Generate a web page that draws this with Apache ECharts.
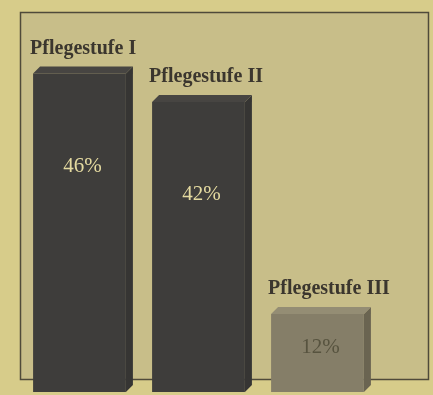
<!DOCTYPE html>
<html><head><meta charset="utf-8">
<script src="https://cdn.jsdelivr.net/npm/echarts@6/dist/echarts.min.js"></script>
<style>html,body{margin:0;padding:0;background:#d7cc8a;}#c{width:433px;height:395px;}</style>
</head><body><div id="c"></div>
<script>
const categories = ['Pflegestufe I', 'Pflegestufe II', 'Pflegestufe III'];
const shares = [46, 42, 12];
const shareLabels = ['46%', '42%', '12%'];

const frontColors = ['#3e3d3b', '#3e3d3b', '#857e68'];
const sideColors = ['#363533', '#363533', '#6a6451'];
const topColors = ['#474542', '#474542', '#948d74'];
const textColors = ['#e4daa0', '#e4daa0', '#57533f'];

const chart = echarts.init(document.getElementById('c'));
const depth = 7;
chart.setOption({
  backgroundColor: '#d7cc8a',
  animation: false,
  grid: { left: 20, width: 357, top: 10, height: 382 },
  xAxis: { type: 'category', data: categories, show: false },
  yAxis: { type: 'value', min: 0, max: 54, show: false },
  graphic: [{
    type: 'rect', z: 0,
    shape: { x: 20.5, y: 12.5, width: 408, height: 367 },
    style: { fill: '#c8be89', stroke: '#4f4a3a', lineWidth: 1.5 }
  }],
  series: [{
    type: 'custom', z: 5,
    data: shares.map((v, i) => [i, v]),
    renderItem: function (params, api) {
      const i = api.value(0);
      const top = api.coord([i, api.value(1)]);
      const base = api.coord([i, 0]);
      const w = api.size([1, 0])[0] * 0.78;
      const x0 = top[0] - w / 2, x1 = top[0] + w / 2;
      const yt = top[1] + depth, yb = base[1];
      const labelY = yt + Math.min(93, (yb - yt) / 2 - 6);
      return {
        type: 'group',
        children: [
          { type: 'polygon', shape: { points: [[x1, yt], [x1 + depth, yt - depth], [x1 + depth, yb - depth], [x1, yb]] },
            style: { fill: sideColors[i] } },
          { type: 'polygon', shape: { points: [[x0, yt], [x0 + depth, yt - depth], [x1 + depth, yt - depth], [x1, yt]] },
            style: { fill: topColors[i] } },
          { type: 'rect', shape: { x: x0, y: yt, width: w, height: yb - yt },
            style: { fill: frontColors[i] } },
          { type: 'text', x: top[0] + 3, y: labelY,
            style: { text: shareLabels[i], fill: textColors[i], font: '21px "Liberation Serif"', align: 'center', verticalAlign: 'middle' } },
          { type: 'text', x: x0 - 3, y: yt - depth - 18,
            style: { text: categories[i], fill: '#3b362e', font: 'bold 20px "Liberation Serif"', align: 'left', verticalAlign: 'middle' } }
        ]
      };
    }
  }]
});
</script></body></html>
